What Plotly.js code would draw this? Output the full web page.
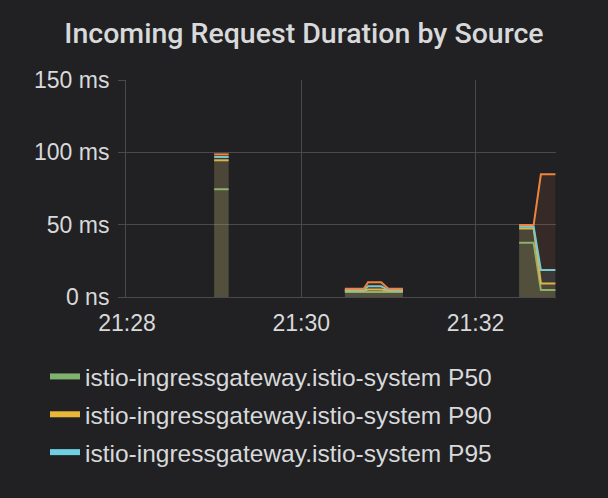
<!DOCTYPE html>
<html>
<head>
<meta charset="utf-8">
<script src="https://cdn.plot.ly/plotly-3.0.1.min.js"></script>
<style>
  html, body { margin: 0; padding: 0; background: #212124; }
  #chart { position: absolute; left: 0; top: 0; width: 608px; height: 498px; }
</style>
</head>
<body>
<div id="chart"></div>
<script>
// ---- data ----
const DAY = '2018-01-01 ';
const spikeTimes   = ['21:29:00', '21:29:10'];
const clusterTimes = ['21:30:30', '21:30:43', '21:30:46', '21:30:55', '21:31:00', '21:31:10'];
const lastTimes    = ['21:32:30', '21:32:40', '21:32:45', '21:32:55'];

const p50Spike = [74.5, 74.5];
const p90Spike = [94.5, 94.5];
const p95Spike = [96.8, 96.8];
const p99Spike = [98.6, 98.6];

const p50Cluster = [3.4, 3.4, 3.6, 3.6, 3.4, 3.4];
const p90Cluster = [4.3, 4.3, 5.2, 5.2, 4.3, 4.3];
const p95Cluster = [4.8, 4.8, 7.4, 7.4, 4.8, 4.8];
const p99Cluster = [5.7, 5.7, 10.2, 10.2, 5.7, 5.7];

const p50Last = [37.5, 37.5, 4.8, 4.8];
const p90Last = [47.4, 47.4, 9.4, 9.4];
const p95Last = [48.5, 48.5, 18.6, 18.6];
const p99Last = [49.7, 49.7, 84.8, 84.8];

const seriesNames = [
  'istio-ingressgateway.istio-system P50',
  'istio-ingressgateway.istio-system P90',
  'istio-ingressgateway.istio-system P95',
  'istio-ingressgateway.istio-system P99'
];
const seriesColors = ['#7EB26D', '#EAB839', '#6ED0E0', '#EF843C'];
const fillColors = ['rgba(126,178,109,0.1)', 'rgba(234,184,57,0.1)', 'rgba(110,208,224,0.1)', 'rgba(239,132,60,0.1)'];

const yTickVals = [0, 50, 100, 150];
const yTickText = ['0 ns', '50 ms', '100 ms', '150 ms'];

// ---- build traces: each burst is its own filled segment ----
const segTimes = [spikeTimes, clusterTimes, lastTimes];
const segValues = [
  [p50Spike, p50Cluster, p50Last],
  [p90Spike, p90Cluster, p90Last],
  [p95Spike, p95Cluster, p95Last],
  [p99Spike, p99Cluster, p99Last]
];

const traces = [];
for (let s = 0; s < 4; s++) {
  for (let k = 0; k < 3; k++) {
    traces.push({
      type: 'scatter', mode: 'lines',
      x: segTimes[k].map(t => DAY + t), y: segValues[s][k],
      fill: 'tozeroy', fillcolor: fillColors[s],
      line: { color: seriesColors[s], width: 2 },
      showlegend: false, hoverinfo: 'skip'
    });
  }
}
// legend entries (only the first three series are listed in the reference)
for (let s = 0; s < 3; s++) {
  traces.push({
    type: 'scatter', mode: 'lines',
    x: [null], y: [null],
    name: seriesNames[s],
    line: { color: seriesColors[s], width: 6 },
    legendgroup: 'g' + s,
    showlegend: true
  });
}

const textColor = '#d8d9da';
const gridColor = '#4a4a4d';
const labelFont = 'Liberation Sans, Arial, Helvetica, sans-serif';
const layout = {
  width: 608, height: 498,
  paper_bgcolor: '#212124', plot_bgcolor: '#212124',
  margin: { l: 126, r: 52, t: 80, b: 201, pad: 0 },
  font: { family: labelFont, color: textColor, size: 23 },
  title: {
    text: 'Incoming Request Duration by Source',
    font: { family: 'Roboto, sans-serif', size: 28.5, color: textColor, weight: 500 },
    x: 0.5, xanchor: 'center', y: 1 - 33 / 498, yanchor: 'middle', yref: 'container'
  },
  xaxis: {
    type: 'date',
    range: [DAY + '21:27:59.31', DAY + '21:32:55.4'],
    tick0: DAY + '21:28:00', dtick: 120000, tickformat: '%H:%M',
    showgrid: true, gridcolor: gridColor, gridwidth: 1,
    showline: true, linecolor: gridColor, linewidth: 1,
    ticks: '', zeroline: false,
    tickfont: { family: labelFont, size: 23, color: textColor },
    ticklabelstandoff: 5
  },
  yaxis: {
    range: [0, 150],
    tickvals: yTickVals, ticktext: yTickText,
    showgrid: true, gridcolor: gridColor, gridwidth: 1,
    showline: true, linecolor: gridColor, linewidth: 1,
    ticks: 'outside', ticklen: 7, tickcolor: gridColor,
    zeroline: false,
    tickfont: { family: labelFont, size: 23, color: textColor },
    ticklabelstandoff: 4
  },
  showlegend: true,
  legend: {
    x: (45 - 126) / 430, xanchor: 'left',
    y: (297 - 354) / 217, yanchor: 'top',
    bgcolor: 'rgba(0,0,0,0)',
    font: { family: labelFont, size: 24.5, color: textColor },
    traceorder: 'grouped', tracegroupgap: 3
  }
};

Plotly.newPlot('chart', traces, layout, { displayModeBar: false, staticPlot: true });
</script>
</body>
</html>
